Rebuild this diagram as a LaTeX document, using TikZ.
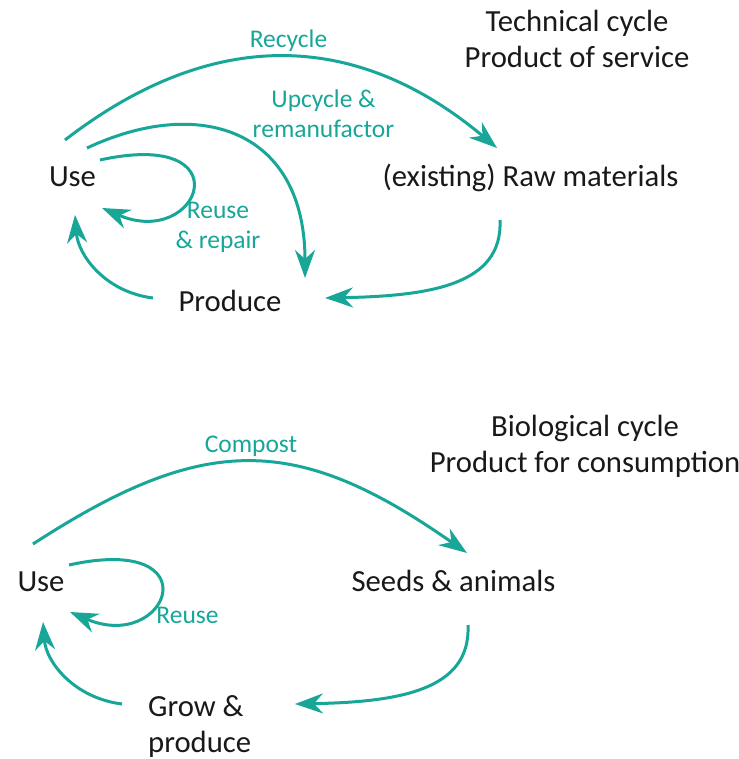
\documentclass[tikz,border=0pt]{standalone}
\usepackage{fontspec}
\setmainfont{Carlito}
\usetikzlibrary{arrows.meta}
\definecolor{cycteal}{RGB}{23,166,152}

\begin{document}
\begin{tikzpicture}[
    x=1pt, y=-1pt,
    stage/.style={
        anchor=base, inner sep=0pt,
        font=\fontsize{30.7}{36}\selectfont, text=black!90,
      },
    cyclbl/.style={
        anchor=base, inner sep=0pt, align=center,
        font=\fontsize{25.5}{30}\selectfont, text=cycteal,
      },
    flow/.style={
        cycteal, line width=3pt,
        -{Stealth[length=28pt,width=20pt,inset=9pt]},
      }
  ]
  \useasboundingbox (0,0) rectangle (738,759);

  % technical cycle
  \node[stage, align=center] (ttitle) at (577,68) {Technical cycle\\Product of service};
  \node[stage] (tuse) at (72.5,187) {Use};
  \node[stage] (traw) at (530.5,187) {(existing) Raw materials};
  \node[stage] (tprod) at (230,311) {Produce};
  \node[cyclbl] (trecycle) at (288.5,48) {Recycle};
  \node[cyclbl] (tupcycle) at (323.5,138) {Upcycle \&\\remanufactor};
  \node[cyclbl] (treuse) at (218,248) {Reuse\\\& repair};

  \draw[flow] ([shift={(-7.5,-47)}]tuse.base) .. controls +(145,-112) and +(-143,-120) .. ([shift={(-33.5,-39)}]traw.base);
  \draw[flow] ([shift={(14.5,-39)}]tuse.base) .. controls +(113,-53) and +(0,-148) .. ([shift={(75,-33)}]tprod.base);
  \draw[flow] ([shift={(27.5,-27)}]tuse.base) .. controls +(145,-32) and +(98,42) .. ([shift={(29.5,21)}]tuse.base);
  \draw[flow] ([shift={(-77,-13)}]tprod.base) .. controls +(-48,-6) and +(3,40) .. ([shift={(2.5,28)}]tuse.base);
  \draw[flow] ([shift={(-30.5,33)}]traw.base) .. controls +(3,65) and +(105,-2) .. ([shift={(95,-13)}]tprod.base);

  % biological cycle
  \node[stage, align=center] (btitle) at (585,472) {Biological cycle\\Product for consumption};
  \node[stage] (buse) at (41,591) {Use};
  \node[stage] (bseeds) at (453.5,591) {Seeds \& animals};
  \node[stage, anchor=base west, align=left] (bgrow) at (148,752) {Grow \&\\produce};
  \node[cyclbl] (bcompost) at (251,452) {Compost};
  \node[cyclbl] (breuse) at (187.5,623) {Reuse};

  \draw[flow] ([shift={(-8,-47)}]buse.base) .. controls +(171,-111) and +(-171,-120) .. ([shift={(13.5,-38)}]bseeds.base);
  \draw[flow] ([shift={(28,-26)}]buse.base) .. controls +(145,-32) and +(98,42) .. ([shift={(29,21)}]buse.base);
  \draw[flow] ([shift={(-26,-48)}]bgrow.base west) .. controls +(-48,-6) and +(3,40) .. ([shift={(2,31)}]buse.base);
  \draw[flow] ([shift={(14.5,34)}]bseeds.base) .. controls +(3,65) and +(105,-2) .. ([shift={(147,-48)}]bgrow.base west);
\end{tikzpicture}
\end{document}
